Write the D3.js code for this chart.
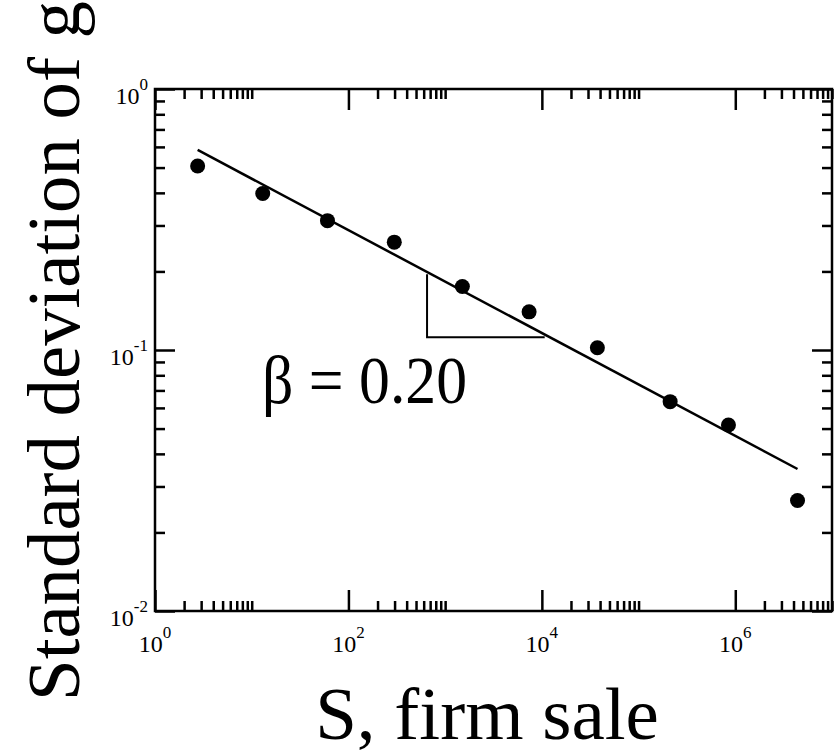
<!DOCTYPE html>
<html>
<head>
<meta charset="utf-8">
<script src="https://cdn.jsdelivr.net/npm/d3@7"></script>
<style>
  body { margin: 0; background: #fff; }
  svg { display: block; }
  svg text { font-family: "Times New Roman", Times, "Liberation Serif", Tinos, "DejaVu Serif", "Noto Serif", serif; }
</style>
</head>
<body>
<svg width="835" height="754"></svg>
<script>
// firm sale S vs standard deviation of growth rate g
var sales = [2.76, 13, 60.7, 298, 1507, 7380, 37500, 212000, 850000, 4.4e6];
var sigma = [0.507, 0.398, 0.313, 0.259, 0.175, 0.140, 0.102, 0.0634, 0.0516, 0.0265];

// fitted power law, beta = 0.20 (end points)
var fitX = [2.76, 4.4e6];
var fitY = [0.584, 0.035];

// slope triangle corners
var triX = [650, 1.07e4];
var triY = [0.195, 0.112];

var xMajor = [1, 1e2, 1e4, 1e6];
var yMajor = [1e-2, 1e-1, 1];
var xLabels = ["0", "2", "4", "6"];
var yLabels = ["-2", "-1", "0"];

var svg = d3.select("svg");

var x = d3.scaleLog().domain([1, 1e7]).range([155, 832]);
var y = d3.scaleLog().domain([0.01, 1]).range([611, 89]);

// minor ticks: 2..10 after each labelled decade on x, 2..9 in every decade on y
var xMinor = [];
xMajor.forEach(function(m) {
    for (var j = 2; j <= 10; j++) if (m * j <= 1e7) xMinor.push(m * j);
});
var yMinor = [];
[0.01, 0.1].forEach(function(m) {
    for (var j = 2; j <= 9; j++) yMinor.push(m * j);
});

function styleAxis(g) {
    g.selectAll("path").remove();
    g.selectAll("line").attr("stroke", "#000").attr("stroke-width", 2.5);
    g.selectAll("text").remove();
}

var plotW = 832 - 155, plotH = 611 - 89;

// bottom / top
[[611, d3.axisBottom], [89, d3.axisTop]].forEach(function(a) {
    svg.append("g").attr("transform", "translate(0," + a[0] + ")")
        .call(a[1](x).tickValues(xMajor).tickSize(-21).tickFormat(""))
        .call(styleAxis);
    svg.append("g").attr("transform", "translate(0," + a[0] + ")")
        .call(a[1](x).tickValues(xMinor).tickSize(-10).tickFormat(""))
        .call(styleAxis);
});
// left / right
[[155, d3.axisLeft], [832, d3.axisRight]].forEach(function(a) {
    svg.append("g").attr("transform", "translate(" + a[0] + ",0)")
        .call(a[1](y).tickValues(yMajor).tickSize(-20).tickFormat(""))
        .call(styleAxis);
    svg.append("g").attr("transform", "translate(" + a[0] + ",0)")
        .call(a[1](y).tickValues(yMinor).tickSize(-10).tickFormat(""))
        .call(styleAxis);
});

// frame
svg.append("rect")
    .attr("x", 155).attr("y", 89)
    .attr("width", plotW).attr("height", plotH)
    .attr("fill", "none").attr("stroke", "#000").attr("stroke-width", 2.5);

// tick labels
var xl = svg.append("g").selectAll("text").data(xMajor).enter().append("text")
    .attr("x", function(d) { return x(d); })
    .attr("y", 652)
    .attr("text-anchor", "middle")
    .attr("font-size", 24);
xl.append("tspan").text("10");
xl.append("tspan").attr("dy", -14).attr("font-size", 17)
    .text(function(d, i) { return xLabels[i]; });

var yl = svg.append("g").selectAll("text").data(yMajor).enter().append("text")
    .attr("x", 148)
    .attr("y", function(d) { return y(d) + 15; })
    .attr("text-anchor", "end")
    .attr("font-size", 24);
yl.append("tspan").text("10");
yl.append("tspan").attr("dy", -14).attr("font-size", 17)
    .text(function(d, i) { return yLabels[i]; });

// fit line
svg.append("line")
    .attr("x1", x(fitX[0])).attr("y1", y(fitY[0]))
    .attr("x2", x(fitX[1])).attr("y2", y(fitY[1]))
    .attr("stroke", "#000").attr("stroke-width", 2.5);

// slope triangle
svg.append("path")
    .attr("d", d3.line()([
        [x(triX[0]), y(triY[0])],
        [x(triX[0]), y(triY[1])],
        [x(triX[1]), y(triY[1])]
    ]))
    .attr("fill", "none").attr("stroke", "#000").attr("stroke-width", 2);

// points
svg.append("g").selectAll("circle").data(sales).enter().append("circle")
    .attr("cx", function(d) { return x(d); })
    .attr("cy", function(d, i) { return y(sigma[i]); })
    .attr("r", 7.5)
    .attr("fill", "#000");

svg.append("text")
    .attr("x", 262).attr("y", 403)
    .attr("font-size", 67)
    .attr("textLength", 205)
    .attr("lengthAdjust", "spacingAndGlyphs")
    .text("\u03B2 = 0.20");

// axis titles
svg.append("text")
    .attr("x", 487).attr("y", 739)
    .attr("text-anchor", "middle")
    .attr("font-size", 75)
    .text("S, firm sale");

var yTitle = svg.append("text")
    .attr("transform", "translate(79,351) rotate(-90)")
    .attr("text-anchor", "middle")
    .attr("font-size", 75)
    .text("Standard deviation of g");

// keep the rotated title inside the page if the serif face is wider
var len = yTitle.node().getComputedTextLength();
if (len > 700) yTitle.attr("font-size", 75 * 700 / len);
</script>
</body>
</html>
